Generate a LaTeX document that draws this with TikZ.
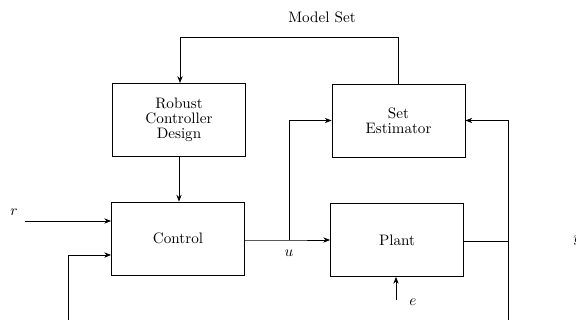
\documentclass[tikz,border=0pt]{standalone}
\usetikzlibrary{arrows.meta}
\begin{document}
\begin{tikzpicture}[x=0.66pt,y=-0.66pt,
  blk/.style={draw,line width=0.55pt,minimum width=133*0.66pt,minimum height=73*0.66pt,inner sep=0pt,align=center},
  wire/.style={line width=0.55pt},
  arr/.style={wire,-{Stealth[length=4.5pt,width=3.5pt]}},
  lbl/.style={inner sep=0pt}]
\useasboundingbox (0,0) rectangle (576,320);
\clip (0,0) rectangle (576,320);
\node[blk] (rcd) at (179,119.5) {Robust\\[-2pt]Controller\\[-2pt]Design};
\node[blk] (se) at (398.5,120.5) {Set\\[-2pt]Estimator};
\node[blk] (ctl) at (178,238.5) {Control};
\node[blk] (pl) at (397,240) {Plant};
\node[lbl] (ms) at (322,17) {Model Set};
\node[lbl] (r) at (14,212) {$r$};
\node[lbl] (u) at (289,253) {$u$};
\node[lbl] (e) at (413,302) {$e$};
\node[lbl,anchor=west] (y) at (573,241) {$y$};
\coordinate (rs) at (25,221);
\coordinate (es) at (396,300);
\coordinate (fb) at (68,320);
\coordinate (yb) at (508,320);
\coordinate (ub) at (289,240);
\coordinate (yj) at (508,241);
% model set loop
\draw[arr] (se.north) |- (180,37) -- (180,83);
% robust -> control
\draw[arr] (rcd.south) -- (rcd.south |- ctl.north);
% r input
\draw[arr] (rs) -- (rs -| ctl.west);
% feedback into control
\draw[arr] (fb) |- (ctl.west |- 0,255);
% control -> plant
\draw[arr] (ctl.east |- ub) -- (ub) -- (pl.west |- ub);
% u branch to set estimator
\draw[arr] (ub) |- (se.west);
% plant output
\draw[wire] (pl.east |- yj) -- (yj);
% y to set estimator
\draw[arr] (yb) |- (se.east);
% e input
\draw[arr] (es) -- (pl.south -| es);
\end{tikzpicture}
\end{document}
